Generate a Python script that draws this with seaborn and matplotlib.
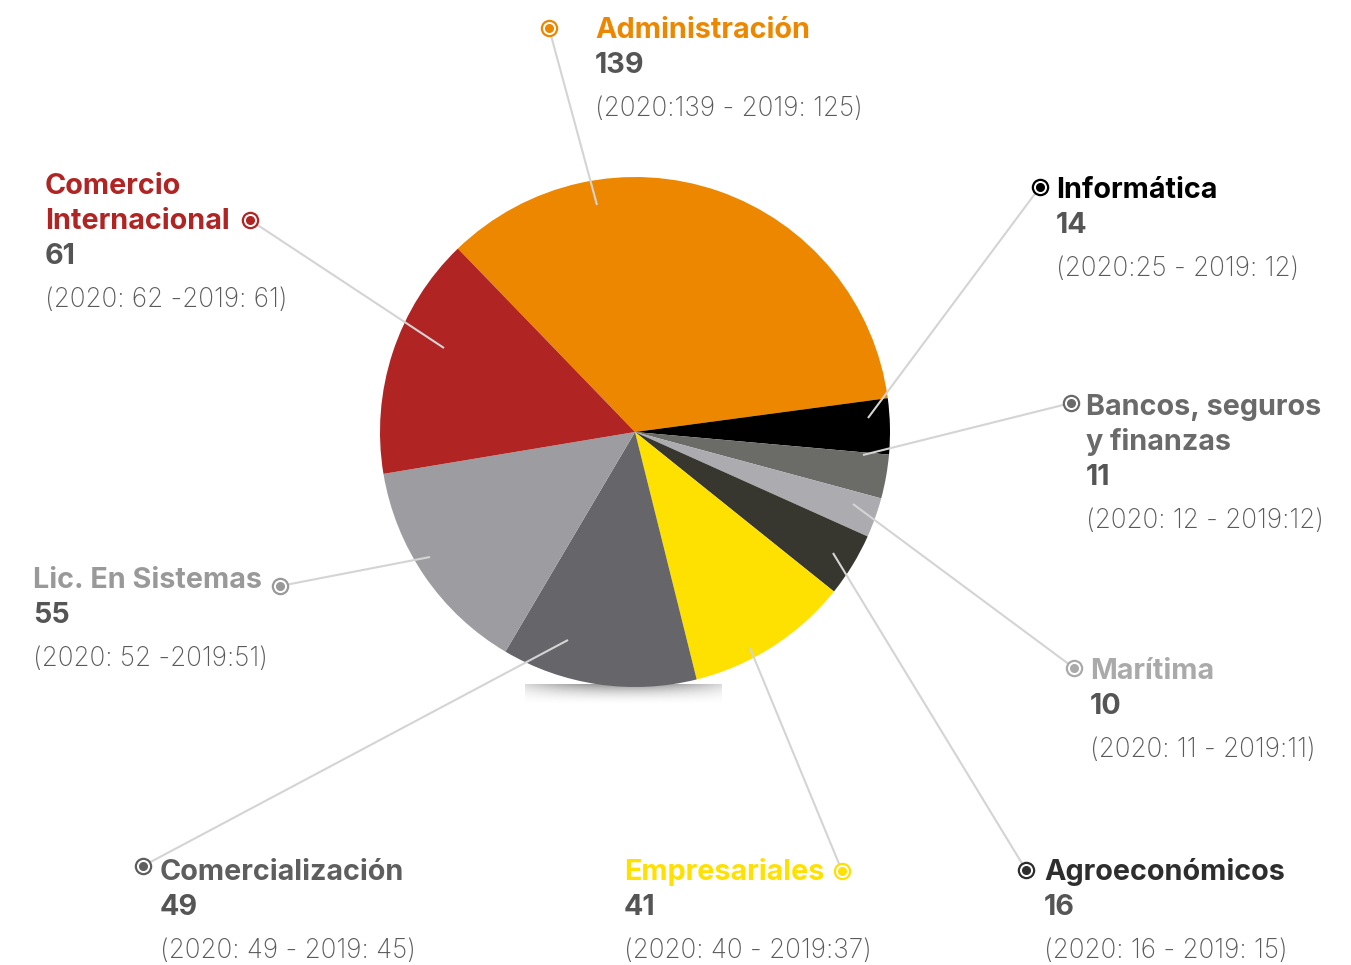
import numpy as np
import matplotlib
matplotlib.use("Agg")
import matplotlib.pyplot as plt
import seaborn as sns

sns.set_theme(style="white")
plt.rcParams["font.family"] = ["Inter", "DejaVu Sans"]

# data, clockwise from the top
carreras = ["Administración", "Informática", "Bancos, seguros\ny finanzas", "Marítima",
            "Agroeconómicos", "Empresariales", "Comercialización", "Lic. En Sistemas",
            "Comercio\nInternacional"]
valores = [139, 14, 11, 10, 16, 41, 49, 55, 61]
detalle = ["(2020:139 - 2019: 125)", "(2020:25 - 2019: 12)", "(2020: 12 - 2019:12)",
           "(2020: 11 - 2019:11)", "(2020: 16 - 2019: 15)", "(2020: 40 - 2019:37)",
           "(2020: 49 - 2019: 45)", "(2020: 52 -2019:51)", "(2020: 62 -2019: 61)"]
colores = ["#ee8700", "#000000", "#6b6b68", "#ababb0", "#37372f",
           "#ffe100", "#666569", "#9d9ca1", "#b02424"]
color_texto = ["#ee8700", "#000000", "#6a6a6a", "#aaaaaa", "#2e2e2e",
               "#ffe100", "#5e5e5e", "#999999", "#b02424"]

W, H = 1351, 965
cx, cy, R = 635, 432, 255

# label layout in pixels: text x, first baseline, marker pos, inner anchor
layout = [
    dict(tx=595, b=38, m=(549, 28), a=(597, 205)),
    dict(tx=1056, b=198, m=(1040, 187), a=(868, 418)),
    dict(tx=1086, b=415, m=(1071, 403), a=(863, 455)),
    dict(tx=1090, b=679, m=(1074, 668), a=(853, 504)),
    dict(tx=1044, b=880, m=(1026, 870), a=(833, 553)),
    dict(tx=624, b=880, m=(842, 871), a=(750, 648)),
    dict(tx=160, b=880, m=(143, 866), a=(568, 640)),
    dict(tx=33, b=588, m=(280, 586), a=(430, 557)),
    dict(tx=45, b=194, m=(250, 220), a=(444, 348)),
]

fig = plt.figure(figsize=(W / 100, H / 100), dpi=100)
ax = fig.add_axes([0, 0, 1, 1])

# soft shadow under the pie
gh, gw = 40, 200
yy, xx = np.mgrid[0:gh, 0:gw]
t = yy / (gh - 1)
u = (xx / (gw - 1)) * 2 - 1
alpha = 0.55 * (1 - t) ** 2 * (0.35 + 0.65 * (1 - u ** 2))
img = np.zeros((gh, gw, 4))
img[..., :3] = 0.25
img[..., 3] = alpha
ax.imshow(img, extent=(525, 722, H - 706, H - 684), origin="upper", zorder=0,
          interpolation="bilinear")

ax.pie(valores, colors=colores, startangle=134, counterclock=False,
       center=(cx, H - cy), radius=R, wedgeprops=dict(linewidth=0), frame=True)
ax.set_xlim(0, W)
ax.set_ylim(0, H)
ax.set_aspect("equal")
ax.axis("off")

for nombre, v, det, ct, lay in zip(carreras, valores, detalle, color_texto, layout):
    mx, my = lay["m"]
    axp, ayp = lay["a"]
    ax.plot([axp, mx], [H - ayp, H - my], color="#d4d4d4", lw=1.5, zorder=3,
            solid_capstyle="butt")
    ax.plot(mx, H - my, "o", ms=11, mfc="white", mec=ct, mew=1.6, zorder=4)
    ax.plot(mx, H - my, "o", ms=5.5, mfc=ct, mec=ct, zorder=5)
    y = lay["b"]
    for linea in nombre.split("\n"):
        ax.text(lay["tx"], H - y, linea, color=ct, fontsize=20.7, fontweight="bold",
                ha="left", va="baseline", zorder=6)
        y += 35
    ax.text(lay["tx"], H - y, str(v), color="#555555", fontsize=20.7,
            fontweight="bold", ha="left", va="baseline")
    y += 43
    ax.text(lay["tx"], H - y, det, color="#5a5a5a", fontsize=18.8,
            fontweight="light", ha="left", va="baseline")

fig.savefig("out.png", dpi=100, facecolor="white")
